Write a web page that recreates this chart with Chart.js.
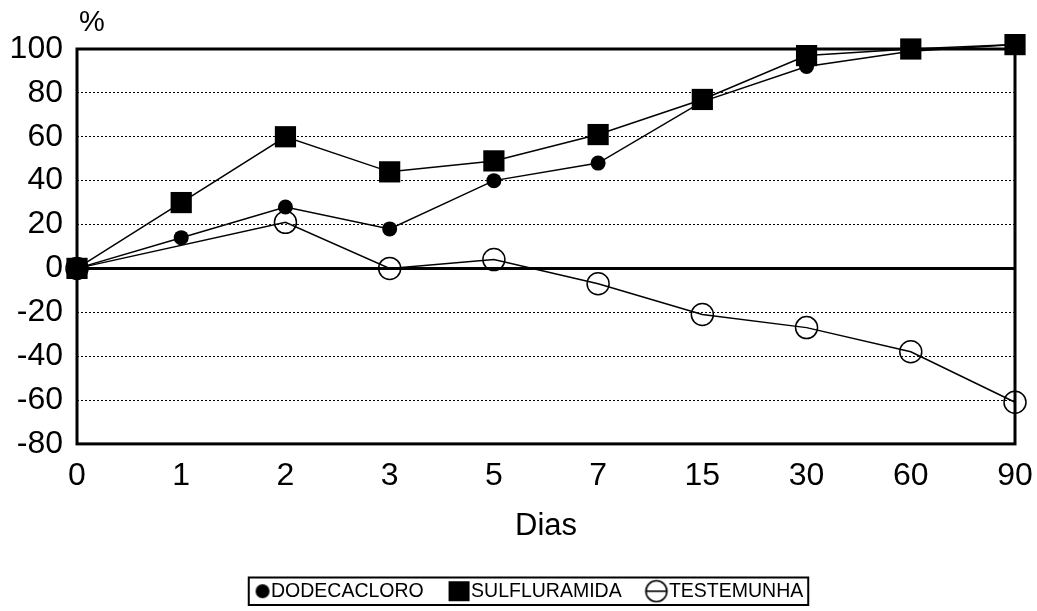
<!DOCTYPE html>
<html>
<head>
<meta charset="utf-8">
<script src="https://cdn.jsdelivr.net/npm/chart.js@4/dist/chart.umd.min.js"></script>
<style>
  body { margin: 0; background: #fff; }
  #wrap { width: 1037px; height: 611px; position: relative; }
</style>
</head>
<body>
<div id="wrap"><canvas id="myChart"></canvas></div>
<script>
const dias = ["0", "1", "2", "3", "5", "7", "15", "30", "60", "90"];
const dodecacloro = [0, 14, 28, 18, 40, 48, 76, 92, 99, 102];
const sulfluramida = [0, 30, 60, 44, 49, 61, 77, 97, 100, 102];
const testemunha = [0, null, 21, 0, 4, -7, -21, -27, -38, -61];
const yTicks = [100, 80, 60, 40, 20, 0, -20, -40, -60, -80];

const FONT = "'Liberation Sans', Arial, sans-serif";

// legend markers, pushed to the right so they sit close to the text
function marker(kind) {
    const c = document.createElement("canvas");
    c.width = 40;
    c.height = 24;
    const g = c.getContext("2d");
    g.fillStyle = "#000";
    g.strokeStyle = "#000";
    g.lineWidth = 1.6;
    if (kind === "dot") {
        g.beginPath();
        g.arc(31, 12, 7, 0, Math.PI * 2);
        g.fill();
    } else if (kind === "square") {
        g.fillRect(17, 2, 21, 20);
    } else {
        g.beginPath();
        g.arc(27, 12, 10.5, 0, Math.PI * 2);
        g.stroke();
        g.beginPath();
        g.moveTo(17, 12);
        g.lineTo(37, 12);
        g.stroke();
    }
    return c;
}
const legendMarkers = [marker("dot"), marker("square"), marker("ring")];

// frame round the plot, "%" label and box round the legend
const extras = {
    id: "extras",
    afterLayout(chart) {
        // legend sits a little right of centre in the original
        chart.legend.left += 15;
        chart.legend.right += 15;
    },
    beforeDatasetsDraw(chart) {
        const a = chart.chartArea;
        const ctx = chart.ctx;
        ctx.save();
        ctx.strokeStyle = "#000";
        ctx.lineWidth = 3;
        ctx.strokeRect(a.left, a.top, a.right - a.left, a.bottom - a.top);
        ctx.restore();
    },
    afterDraw(chart) {
        const ctx = chart.ctx;
        const a = chart.chartArea;
        ctx.save();
        ctx.fillStyle = "#000";
        ctx.font = "29px " + FONT;
        ctx.textAlign = "center";
        ctx.textBaseline = "middle";
        ctx.fillText("%", a.left + 15, 23);

        const hb = chart.legend.legendHitBoxes;
        if (hb && hb.length) {
            const first = hb[0];
            const last = hb[hb.length - 1];
            const x0 = first.left + 7;
            const x1 = last.left + last.width + 5;
            const y0 = first.top - 4;
            const y1 = first.top + first.height + 4;
            ctx.strokeStyle = "#000";
            ctx.lineWidth = 2;
            ctx.strokeRect(x0, y0, x1 - x0, y1 - y0);
        }
        ctx.restore();
    }
};

const data = {
    labels: dias,
    datasets: [
        {
            label: "DODECACLORO",
            data: dodecacloro,
            borderColor: "#000",
            backgroundColor: "#000",
            borderWidth: 1.5,
            pointStyle: "circle",
            pointRadius: 7.5,
            pointBackgroundColor: "#000",
            pointBorderWidth: 0,
            clip: false,
        },
        {
            label: "SULFLURAMIDA",
            data: sulfluramida,
            borderColor: "#000",
            backgroundColor: "#000",
            borderWidth: 1.5,
            pointStyle: "rect",
            pointRadius: 15,
            pointBackgroundColor: "#000",
            pointBorderWidth: 0,
            clip: false,
        },
        {
            label: "TESTEMUNHA",
            data: testemunha,
            borderColor: "#000",
            backgroundColor: "rgba(0,0,0,0)",
            borderWidth: 1.5,
            pointStyle: "circle",
            pointRadius: 11,
            pointBackgroundColor: "rgba(0,0,0,0)",
            pointBorderColor: "#000",
            pointBorderWidth: 1.5,
            spanGaps: true,
            clip: false,
        },
    ],
};

const config = {
    type: "line",
    data: data,
    plugins: [extras],
    options: {
        responsive: true,
        maintainAspectRatio: false,
        animation: false,
        layout: {
            padding: { top: 49, right: 22, left: 0, bottom: 0 },
        },
        elements: {
            line: { tension: 0 },
        },
        plugins: {
            tooltip: { enabled: false },
            legend: {
                position: "bottom",
                labels: {
                    color: "#000",
                    font: { family: FONT, size: 19.5 },
                    padding: 18,
                    boxWidth: 19.5,
                    usePointStyle: true,
                    generateLabels(chart) {
                        return chart.data.datasets.map((ds, i) => ({
                            text: ds.label,
                            datasetIndex: i,
                            pointStyle: legendMarkers[i],
                            fillStyle: "#000",
                            strokeStyle: "#000",
                            lineWidth: 0,
                            hidden: false,
                        }));
                    },
                },
            },
        },
        scales: {
            x: {
                offset: false,
                afterFit(scale) {
                    scale.paddingRight = 0;
                },
                grid: { display: false, drawTicks: false },
                border: { display: false },
                ticks: {
                    color: "#000",
                    font: { family: FONT, size: 32 },
                    padding: 13,
                    maxRotation: 0,
                    autoSkip: false,
                },
                title: {
                    display: true,
                    text: "Dias",
                    color: "#000",
                    font: { family: FONT, size: 31 },
                    padding: { top: 0, bottom: 18 },
                },
            },
            y: {
                min: -80,
                max: 100,
                afterFit(scale) {
                    scale.width = 77;
                },
                afterBuildTicks(scale) {
                    scale.ticks = yTicks.map((v) => ({ value: v }));
                },
                grid: {
                    drawTicks: false,
                    color(ctx) {
                        const v = ctx.tick ? ctx.tick.value : null;
                        if (v === 100 || v === -80) return "rgba(0,0,0,0)";
                        return "#000";
                    },
                    lineWidth(ctx) {
                        return ctx.tick && ctx.tick.value === 0 ? 3 : 1;
                    },
                },
                border: {
                    display: false,
                    dash(ctx) {
                        return ctx.tick && ctx.tick.value === 0 ? [] : [2, 2];
                    },
                },
                ticks: {
                    color: "#000",
                    font: { family: FONT, size: 32 },
                    padding: 14,
                },
            },
        },
    },
};

new Chart(document.getElementById("myChart"), config);
</script>
</body>
</html>
